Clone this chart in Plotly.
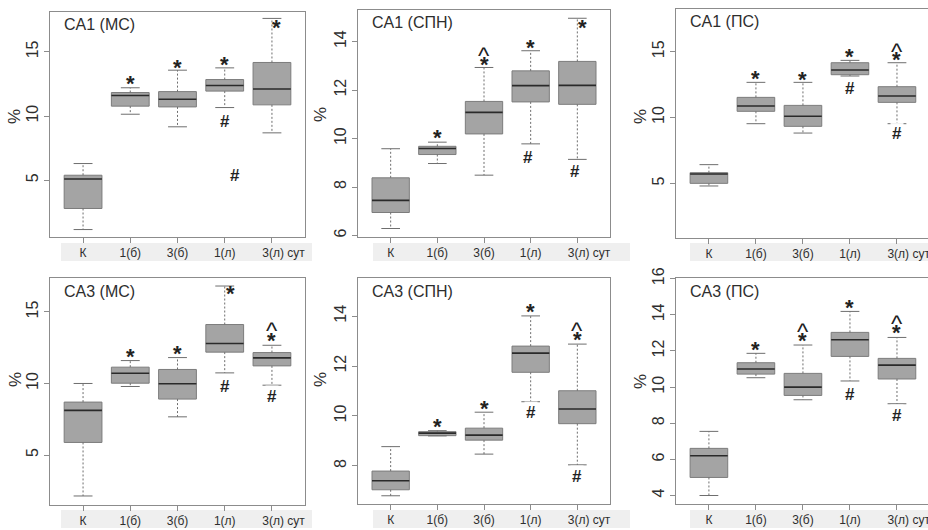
import plotly.graph_objects as go

# ---------------- data ----------------
categories = ["К", "1(б)", "3(б)", "1(л)", "3(л)"]
tick_labels = ["К", "1(б)", "3(б)", "1(л)", "\u00a0" * 7 + "3(л) сут"]

ca1_ms_lower = [1.16, 10.14, 9.16, 10.66, 8.69]
ca1_ms_q1 = [2.80, 10.77, 10.71, 11.94, 10.87]
ca1_ms_median = [5.10, 11.60, 11.31, 12.38, 12.10]
ca1_ms_q3 = [5.39, 11.83, 11.90, 12.84, 14.17]
ca1_ms_upper = [6.30, 12.20, 13.57, 13.75, 17.60]

ca1_spn_lower = [6.29, 8.97, 8.49, 9.78, 9.14]
ca1_spn_q1 = [6.95, 9.34, 10.19, 11.51, 11.41]
ca1_spn_median = [7.45, 9.59, 11.08, 12.18, 12.19]
ca1_spn_q3 = [8.38, 9.68, 11.53, 12.79, 13.18]
ca1_spn_upper = [9.58, 9.85, 12.93, 13.62, 14.96]

ca1_ps_lower = [4.80, 9.53, 8.82, 13.15, 9.53]
ca1_ps_q1 = [5.00, 10.47, 9.33, 13.25, 11.15]
ca1_ps_median = [5.71, 10.87, 10.09, 13.61, 11.63]
ca1_ps_q3 = [5.81, 11.53, 10.92, 14.16, 12.34]
ca1_ps_upper = [6.42, 12.67, 12.67, 14.34, 14.16]

ca3_ms_lower = [2.14, 9.79, 7.67, 10.74, 9.88]
ca3_ms_q1 = [5.88, 10.02, 8.91, 12.19, 11.23]
ca3_ms_median = [8.12, 10.72, 9.98, 12.79, 11.79]
ca3_ms_q3 = [8.70, 11.14, 10.98, 14.12, 12.16]
ca3_ms_upper = [10.00, 11.60, 11.81, 16.81, 12.67]

ca3_spn_lower = [6.80, 9.20, 8.47, 10.57, 8.04]
ca3_spn_q1 = [7.04, 9.21, 9.03, 11.75, 9.69]
ca3_spn_median = [7.40, 9.31, 9.23, 12.52, 10.28]
ca3_spn_q3 = [7.79, 9.37, 9.51, 12.80, 11.01]
ca3_spn_upper = [8.77, 9.41, 10.15, 14.01, 12.88]

ca3_ps_lower = [4.00, 10.52, 9.30, 10.34, 9.08]
ca3_ps_q1 = [5.00, 10.72, 9.54, 11.70, 10.45]
ca3_ps_median = [6.20, 11.00, 10.00, 12.62, 11.22]
ca3_ps_q3 = [6.61, 11.35, 10.76, 13.03, 11.59]
ca3_ps_upper = [7.55, 11.87, 12.33, 14.19, 12.75]

# significance marks: (category, symbol, value, x-offset in category units)
ca1_ms_marks = [("1(б)", "*", 12.66, 0), ("3(б)", "*", 13.96, 0), ("1(л)", "*", 14.20, 0),
                ("3(л)", "*", 17.08, 0.09), ("1(л)", "#", 9.68, 0), ("1(л)", "#", 5.47, 0.21)]
ca1_spn_marks = [("1(б)", "*", 10.12, 0), ("3(б)", "*", 13.15, 0), ("3(б)", "^", 13.55, 0),
                 ("1(л)", "*", 13.84, 0), ("3(л)", "*", 14.68, 0.12),
                 ("1(л)", "#", 9.27, -0.06), ("3(л)", "#", 8.68, -0.06)]
ca1_ps_marks = [("1(б)", "*", 13.15, 0), ("3(б)", "*", 13.05, 0), ("1(л)", "*", 14.80, 0),
                ("3(л)", "*", 14.57, 0), ("3(л)", "^", 15.25, 0),
                ("1(л)", "#", 12.29, 0), ("3(л)", "#", 8.85, 0)]
ca3_ms_marks = [("1(б)", "*", 12.02, 0), ("3(б)", "*", 12.21, 0), ("1(л)", "*", 16.40, 0.13),
                ("3(л)", "*", 13.14, 0), ("3(л)", "^", 13.88, 0),
                ("1(л)", "#", 9.88, 0), ("3(л)", "#", 9.19, 0)]
ca3_spn_marks = [("1(б)", "*", 9.64, 0), ("3(б)", "*", 10.37, 0), ("1(л)", "*", 14.27, 0),
                 ("3(л)", "*", 13.13, 0), ("3(л)", "^", 13.55, 0),
                 ("1(л)", "#", 10.17, 0), ("3(л)", "#", 7.60, 0)]
ca3_ps_marks = [("1(б)", "*", 12.20, 0), ("3(б)", "*", 12.68, 0), ("3(б)", "^", 13.27, 0),
                ("1(л)", "*", 14.52, 0), ("3(л)", "*", 13.14, 0), ("3(л)", "^", 13.69, 0),
                ("1(л)", "#", 9.67, 0), ("3(л)", "#", 8.47, 0)]

panel_titles = ["CA1 (МС)", "CA1 (СПН)", "CA1 (ПС)", "CA3 (МС)", "CA3 (СПН)", "CA3 (ПС)"]
y_ticks = [[5, 10, 15], [6, 8, 10, 12, 14], [5, 10, 15],
           [5, 10, 15], [8, 10, 12, 14], [4, 6, 8, 10, 12, 14, 16]]

series = [
    (ca1_ms_lower, ca1_ms_q1, ca1_ms_median, ca1_ms_q3, ca1_ms_upper, ca1_ms_marks),
    (ca1_spn_lower, ca1_spn_q1, ca1_spn_median, ca1_spn_q3, ca1_spn_upper, ca1_spn_marks),
    (ca1_ps_lower, ca1_ps_q1, ca1_ps_median, ca1_ps_q3, ca1_ps_upper, ca1_ps_marks),
    (ca3_ms_lower, ca3_ms_q1, ca3_ms_median, ca3_ms_q3, ca3_ms_upper, ca3_ms_marks),
    (ca3_spn_lower, ca3_spn_q1, ca3_spn_median, ca3_spn_q3, ca3_spn_upper, ca3_spn_marks),
    (ca3_ps_lower, ca3_ps_q1, ca3_ps_median, ca3_ps_q3, ca3_ps_upper, ca3_ps_marks),
]

# ---------------- layout (pixels) ----------------
W, H = 928, 530
FONT = "Liberation Sans, Arial, sans-serif"
TEXT = "#2e2e2e"
FRAME = "#8c8c8c"
BOX_FILL = "#a4a4a4"
BOX_LINE = "#7c7c7c"

# plot frames: (left, right, top, bottom) in px
frames = [(50, 305, 12, 237), (358, 610, 10, 237), (676, 928, 9, 238),
          (50, 305, 278, 505), (358, 610, 278, 504), (676, 928, 278, 504)]
y_ranges = [(0.58, 18.1), (5.94, 15.3), (0.85, 18.24),
            (1.51, 17.37), (6.47, 15.53), (3.53, 16.04)]
x_ranges = [(-0.7, 4.7), (-0.7, 4.7), (-0.7, 4.66),
            (-0.7, 4.7), (-0.7, 4.7), (-0.7, 4.66)]
pct_pos = [(14, 117), (320, 115), (640, 117), (15, 380), (320, 380), (640, 382)]
bands = [(61, 312, 243, 261), (373, 630, 243, 261), (690, 928, 243, 261),
         (61, 312, 510, 528), (373, 630, 510, 528), (690, 928, 510, 528)]

BOXW = 0.8
CAPW = 0.4

fig = go.Figure()
annotations = []
shapes = []

for i, (lo, q1, med, q3, hi, marks) in enumerate(series):
    n = i + 1
    xa = "x" if n == 1 else f"x{n}"
    ya = "y" if n == 1 else f"y{n}"
    xs = list(range(len(categories)))

    # whiskers (dashed)
    wx, wy = [], []
    for k in xs:
        wx += [k, k, None, k, k, None]
        wy += [q3[k], hi[k], None, q1[k], lo[k], None]
    fig.add_trace(go.Scatter(x=wx, y=wy, mode="lines", xaxis=xa, yaxis=ya,
                             line=dict(color="#6e6e6e", width=1, dash="2px,2px"),
                             hoverinfo="skip", showlegend=False))
    # caps
    cx, cy = [], []
    for k in xs:
        cx += [k - CAPW / 2, k + CAPW / 2, None, k - CAPW / 2, k + CAPW / 2, None]
        cy += [hi[k], hi[k], None, lo[k], lo[k], None]
    fig.add_trace(go.Scatter(x=cx, y=cy, mode="lines", xaxis=xa, yaxis=ya,
                             line=dict(color="#6e6e6e", width=1),
                             hoverinfo="skip", showlegend=False))
    # boxes
    fig.add_trace(go.Bar(x=xs, y=[q3[k] - q1[k] for k in xs], base=q1, width=BOXW,
                         xaxis=xa, yaxis=ya,
                         marker=dict(color=BOX_FILL, line=dict(color=BOX_LINE, width=1)),
                         hoverinfo="skip", showlegend=False))
    # medians
    mx, my = [], []
    for k in xs:
        mx += [k - BOXW / 2, k + BOXW / 2, None]
        my += [med[k], med[k], None]
    fig.add_trace(go.Scatter(x=mx, y=my, mode="lines", xaxis=xa, yaxis=ya,
                             line=dict(color="#2a2a2a", width=1.6),
                             hoverinfo="skip", showlegend=False))

    # significance marks
    for cat, sym, val, dx in marks:
        k = categories.index(cat)
        size = {"*": 22, "#": 17, "^": 24}[sym]
        shift = {"*": -2, "#": -1, "^": -3}[sym]
        txt = "<b>%s</b>" % sym if sym in "*#" else sym
        annotations.append(dict(x=k + dx, y=val, xref=xa, yref=ya, text=txt,
                                showarrow=False, yshift=shift,
                                font=dict(family=FONT, size=size, color="#222222"),
                                bgcolor="rgba(255,255,255,0.9)" if sym == "#" else None))

    L, R, T, B = frames[i]
    dom_x = [L / W, R / W]
    dom_y = [1 - B / H, 1 - T / H]
    right_cut = R >= W
    fig.layout[f"xaxis{'' if n == 1 else n}"] = dict(
        domain=dom_x, range=list(x_ranges[i]), anchor=ya, automargin=False,
        ticklabeloverflow="allow",
        tickvals=xs, ticktext=tick_labels, ticks="outside", ticklen=5,
        tickcolor=FRAME, showline=True, linecolor=FRAME, linewidth=1, mirror=True,
        showgrid=False, zeroline=False, fixedrange=True,
        tickfont=dict(family=FONT, size=12, color=TEXT))
    fig.layout[f"yaxis{'' if n == 1 else n}"] = dict(
        domain=dom_y, range=list(y_ranges[i]), anchor=xa, automargin=False,
        ticklabeloverflow="allow",
        tickvals=y_ticks[i], ticks="outside", ticklen=5, tickangle=-90,
        tickcolor=FRAME, showline=True, linecolor=FRAME, linewidth=1,
        mirror=not right_cut, showgrid=False, zeroline=False, fixedrange=True,
        tickfont=dict(family=FONT, size=16, color=TEXT))

    # panel title
    annotations.append(dict(x=(L + 12) / W, y=1 - (T + 13) / H, xref="paper", yref="paper",
                            text=panel_titles[i], showarrow=False, xanchor="left",
                            yanchor="middle", font=dict(family=FONT, size=16, color=TEXT)))
    # % label
    px_, py_ = pct_pos[i]
    annotations.append(dict(x=px_ / W, y=1 - py_ / H, xref="paper", yref="paper",
                            text="%", textangle=-90, showarrow=False,
                            xanchor="center", yanchor="middle",
                            font=dict(family=FONT, size=17, color=TEXT)))
    # light band behind category labels
    bl, br, bt, bb = bands[i]
    shapes.append(dict(type="rect", xref="paper", yref="paper", layer="below",
                       x0=bl / W, x1=br / W, y0=1 - bb / H, y1=1 - bt / H,
                       fillcolor="#efefef", line=dict(width=0)))

fig.update_layout(width=W, height=H, margin=dict(l=0, r=0, t=0, b=0, pad=0, autoexpand=False),
                  paper_bgcolor="white", plot_bgcolor="white",
                  barmode="overlay", showlegend=False,
                  annotations=annotations, shapes=shapes,
                  font=dict(family=FONT, color=TEXT))

fig.write_html("out.html", config={"displayModeBar": False},
               post_script="document.body.style.margin='0';document.body.style.overflow='hidden';")
